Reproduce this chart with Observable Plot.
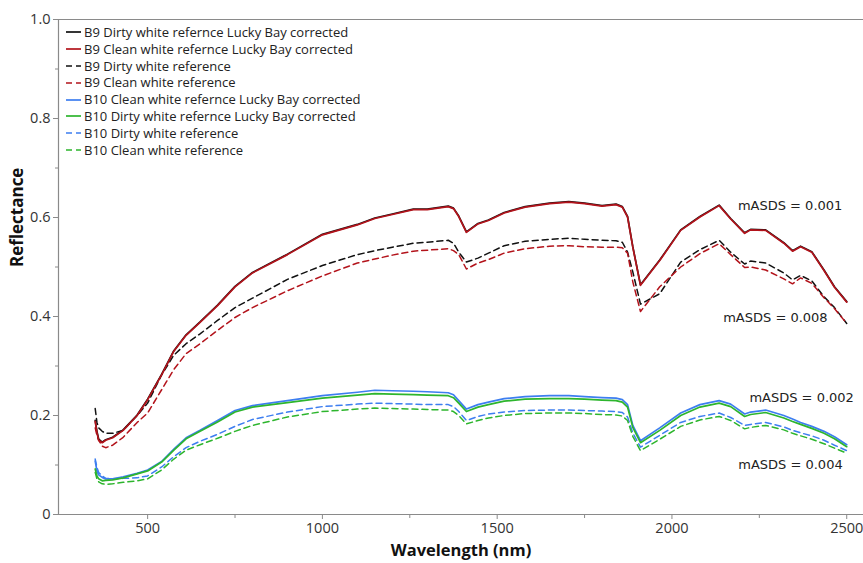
<!DOCTYPE html>
<html>
<head>
<meta charset="utf-8">
<script src="https://cdn.jsdelivr.net/npm/d3@7"></script>
<script src="https://cdn.jsdelivr.net/npm/@observablehq/plot@0.6"></script>
<style>
  html, body { margin: 0; padding: 0; background: #fff; }
  #wrap { position: relative; width: 863px; height: 563px; font-family: "Open Sans", "Noto Sans", sans-serif; }
  #legend { position: absolute; left: 65px; top: 24px; font-size: 13px; color: #222; line-height: 16.8px; }
  #legend .row { display: flex; align-items: center; white-space: nowrap; }
  #legend svg { margin-right: 2px; }
</style>
</head>
<body>
<div id="wrap"><div id="legend"></div></div>
<script>
// Wavelength grid (nm)
const wavelengths = [350, 355, 360, 370, 380, 400, 430, 470, 500, 540, 575, 610, 650, 700, 750, 800, 900, 1000, 1100, 1150, 1200, 1260, 1300, 1360, 1375, 1390, 1412, 1445, 1475, 1520, 1580, 1650, 1705, 1750, 1800, 1840, 1858, 1873, 1888, 1910, 1965, 2025, 2080, 2135, 2168, 2208, 2225, 2268, 2320, 2345, 2368, 2400, 2435, 2465, 2500];

// Series names (legend order)
const seriesNames = [
  "B9 Dirty white refernce Lucky Bay corrected",
  "B9 Clean white refernce Lucky Bay corrected",
  "B9 Dirty white reference",
  "B9 Clean white reference",
  "B10 Clean white refernce Lucky Bay corrected",
  "B10 Dirty white refernce Lucky Bay corrected",
  "B10 Dirty white reference",
  "B10 Clean white reference"
];
const seriesColors = ["#111111", "#b3131b", "#111111", "#b3131b", "#3d7ef0", "#2db52d", "#3d7ef0", "#2db52d"];
const seriesDashed = [false, false, true, true, false, false, true, true];

const b9DirtyCorrected = [0.190, 0.168, 0.152, 0.146, 0.151, 0.156, 0.171, 0.201, 0.233, 0.283, 0.331, 0.363, 0.389, 0.423, 0.461, 0.489, 0.526, 0.566, 0.586, 0.599, 0.607, 0.617, 0.617, 0.623, 0.619, 0.603, 0.571, 0.588, 0.595, 0.610, 0.622, 0.629, 0.632, 0.629, 0.624, 0.627, 0.622, 0.602, 0.541, 0.464, 0.514, 0.575, 0.602, 0.625, 0.598, 0.569, 0.576, 0.575, 0.549, 0.533, 0.542, 0.531, 0.494, 0.460, 0.430];
const b9CleanCorrected = [0.188, 0.165, 0.150, 0.145, 0.150, 0.155, 0.170, 0.200, 0.232, 0.282, 0.330, 0.362, 0.388, 0.422, 0.460, 0.488, 0.525, 0.565, 0.585, 0.598, 0.606, 0.616, 0.616, 0.622, 0.618, 0.602, 0.570, 0.587, 0.594, 0.609, 0.621, 0.628, 0.631, 0.628, 0.623, 0.626, 0.621, 0.601, 0.540, 0.463, 0.513, 0.574, 0.601, 0.624, 0.597, 0.568, 0.575, 0.574, 0.548, 0.532, 0.541, 0.530, 0.493, 0.459, 0.429];
const b9DirtyRef = [0.214, 0.186, 0.175, 0.168, 0.164, 0.164, 0.170, 0.200, 0.225, 0.282, 0.322, 0.345, 0.365, 0.392, 0.418, 0.437, 0.475, 0.503, 0.525, 0.533, 0.540, 0.548, 0.550, 0.554, 0.548, 0.530, 0.510, 0.518, 0.528, 0.543, 0.552, 0.556, 0.558, 0.556, 0.554, 0.553, 0.550, 0.530, 0.490, 0.425, 0.446, 0.510, 0.535, 0.554, 0.530, 0.506, 0.512, 0.508, 0.488, 0.474, 0.483, 0.472, 0.440, 0.418, 0.386];
const b9CleanRef = [0.175, 0.160, 0.150, 0.138, 0.135, 0.140, 0.156, 0.186, 0.205, 0.252, 0.293, 0.325, 0.345, 0.372, 0.398, 0.418, 0.452, 0.482, 0.508, 0.516, 0.524, 0.532, 0.534, 0.537, 0.533, 0.525, 0.496, 0.508, 0.515, 0.528, 0.537, 0.542, 0.543, 0.541, 0.540, 0.540, 0.539, 0.528, 0.470, 0.410, 0.460, 0.500, 0.527, 0.547, 0.525, 0.499, 0.500, 0.494, 0.476, 0.466, 0.478, 0.467, 0.438, 0.416, 0.386];
const b10CleanCorrected = [0.108, 0.088, 0.080, 0.075, 0.072, 0.072, 0.076, 0.083, 0.090, 0.107, 0.132, 0.155, 0.170, 0.190, 0.210, 0.220, 0.230, 0.240, 0.247, 0.251, 0.250, 0.249, 0.248, 0.246, 0.242, 0.230, 0.213, 0.222, 0.227, 0.234, 0.238, 0.240, 0.240, 0.238, 0.236, 0.235, 0.232, 0.222, 0.180, 0.149, 0.175, 0.205, 0.222, 0.230, 0.223, 0.203, 0.207, 0.211, 0.200, 0.193, 0.186, 0.178, 0.168, 0.157, 0.141];
const b10DirtyCorrected = [0.092, 0.078, 0.072, 0.068, 0.069, 0.070, 0.074, 0.082, 0.088, 0.106, 0.130, 0.153, 0.168, 0.187, 0.207, 0.217, 0.226, 0.235, 0.241, 0.244, 0.243, 0.242, 0.241, 0.240, 0.236, 0.225, 0.208, 0.217, 0.222, 0.229, 0.233, 0.234, 0.234, 0.233, 0.231, 0.230, 0.227, 0.217, 0.176, 0.145, 0.170, 0.200, 0.217, 0.225, 0.218, 0.198, 0.202, 0.206, 0.195, 0.188, 0.182, 0.174, 0.164, 0.153, 0.137];
const b10DirtyRef = [0.112, 0.095, 0.085, 0.078, 0.073, 0.072, 0.073, 0.074, 0.078, 0.096, 0.117, 0.135, 0.148, 0.162, 0.178, 0.192, 0.207, 0.218, 0.223, 0.225, 0.224, 0.223, 0.222, 0.222, 0.218, 0.208, 0.190, 0.198, 0.203, 0.207, 0.210, 0.211, 0.211, 0.210, 0.209, 0.208, 0.206, 0.197, 0.165, 0.136, 0.160, 0.186, 0.198, 0.205, 0.196, 0.180, 0.182, 0.186, 0.177, 0.170, 0.165, 0.159, 0.150, 0.140, 0.129];
const b10CleanRef = [0.085, 0.072, 0.066, 0.062, 0.061, 0.062, 0.065, 0.068, 0.072, 0.090, 0.112, 0.130, 0.141, 0.154, 0.168, 0.180, 0.197, 0.208, 0.213, 0.215, 0.214, 0.213, 0.212, 0.211, 0.208, 0.200, 0.183, 0.190, 0.195, 0.200, 0.204, 0.205, 0.205, 0.204, 0.202, 0.201, 0.199, 0.190, 0.158, 0.129, 0.152, 0.178, 0.191, 0.198, 0.190, 0.173, 0.176, 0.180, 0.171, 0.164, 0.159, 0.152, 0.143, 0.134, 0.124];

const seriesValues = [b9DirtyCorrected, b9CleanCorrected, b9DirtyRef, b9CleanRef, b10CleanCorrected, b10DirtyCorrected, b10DirtyRef, b10CleanRef];

// Annotations
const annLabels = ["mASDS = 0.001", "mASDS = 0.008", "mASDS = 0.002", "mASDS = 0.004"];
const annX = [2338, 2296, 2371, 2339];
const annY = [0.624, 0.398, 0.236, 0.101];

// Ticks
const xTicks = [500, 1000, 1500, 2000, 2500];
const xMinorTicks = [750, 1250, 1750, 2250];
const yTicks = [0, 0.2, 0.4, 0.6, 0.8, 1.0];
const yMinorTicks = [0.1, 0.3, 0.5, 0.7, 0.9];

const rows = [];
seriesNames.forEach((name, i) => {
  wavelengths.forEach((w, j) => rows.push({series: i, wl: w, r: seriesValues[i][j]}));
});

const drawOrder = [2, 3, 6, 7, 0, 1, 4, 5];
const lineMarks = drawOrder.map(i => Plot.line(rows.filter(d => d.series === i), {
  x: "wl", y: "r", stroke: seriesColors[i],
  strokeWidth: seriesDashed[i] ? 1.5 : 1.7,
  strokeDasharray: seriesDashed[i] ? "6,4" : null,
  curve: "linear"
}));

const axisColor = "#8a8a8a";
const chart = Plot.plot({
  width: 863, height: 563,
  marginLeft: 58, marginRight: 0, marginTop: 19, marginBottom: 49,
  style: {fontFamily: "'Open Sans', 'Noto Sans', sans-serif", fontSize: "14px", background: "#fff"},
  x: {domain: [245, 2548]},
  y: {domain: [0, 1]},
  marks: [
    Plot.ruleY([0], {stroke: axisColor, strokeWidth: 1.2}),
    Plot.ruleY([1], {stroke: axisColor, strokeWidth: 1.2}),
    Plot.ruleX([245], {stroke: axisColor, strokeWidth: 1.2}),
    Plot.axisX(xTicks, {tickSize: 5, stroke: axisColor, fontSize: 14.5, fill: "#333", tickPadding: 3, label: null, tickFormat: d => String(d)}),
    Plot.axisX(xMinorTicks, {tickSize: 4, stroke: axisColor, text: null, label: null}),
    Plot.axisY(yTicks, {tickSize: 5, stroke: axisColor, fontSize: 14.5, fill: "#333", tickPadding: 3, label: null, tickFormat: d => d === 0 ? "0" : d.toFixed(1)}),
    Plot.axisY(yMinorTicks, {tickSize: 3, stroke: axisColor, text: null, label: null}),
    ...lineMarks,
    Plot.text(annLabels, {x: (d, i) => annX[i], y: (d, i) => annY[i], text: d => d, fontSize: 13, fontFamily: "DejaVu Sans", fill: "#222", textAnchor: "middle"}),
    Plot.text(["Reflectance"], {frameAnchor: "left", dx: -41, rotate: -90, fontSize: 17, fontWeight: "bold", fill: "#111"}),
    Plot.text(["Wavelength (nm)"], {frameAnchor: "bottom", dy: 41, fontSize: 16.5, fontWeight: "bold", fill: "#111"})
  ]
});

const wrap = document.getElementById("wrap");
wrap.insertBefore(chart, wrap.firstChild);

const legend = document.getElementById("legend");
seriesNames.forEach((name, i) => {
  const row = document.createElement("div");
  row.className = "row";
  row.innerHTML = `<svg width="17" height="10"><line x1="1" y1="5" x2="16" y2="5" stroke="${seriesColors[i]}" stroke-width="1.7" ${seriesDashed[i] ? 'stroke-dasharray="6,4"' : ''}/></svg><span>${name}</span>`;
  legend.appendChild(row);
});
</script>
</body>
</html>
